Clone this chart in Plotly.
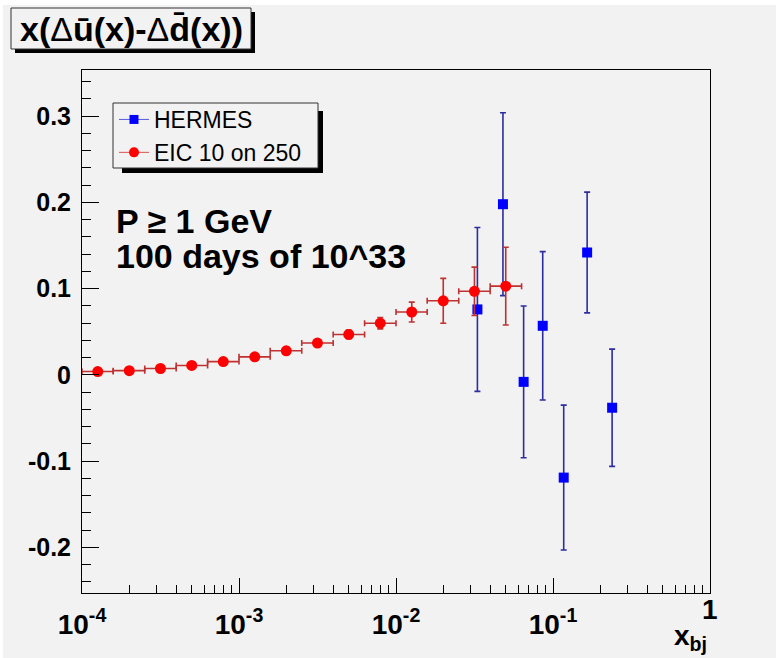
import numpy as np
import plotly.graph_objects as go

# ---------------- data ----------------
hermes_x = [0.033, 0.048, 0.065, 0.086, 0.117, 0.165, 0.238]
hermes_y = [0.076, 0.198, -0.008, 0.057, -0.119, 0.142, -0.038]
hermes_err = [0.095, 0.106, 0.088, 0.086, 0.084, 0.070, 0.068]

eic_x = [1.26e-4, 2.0e-4, 3.16e-4, 5.0e-4, 7.94e-4, 1.26e-3, 2.0e-3,
         3.16e-3, 5.0e-3, 7.94e-3, 1.26e-2, 2.0e-2, 3.16e-2, 5.0e-2]
eic_bin_edges = [1.0e-4, 1.58e-4, 2.51e-4, 3.98e-4, 6.31e-4, 1.0e-3, 1.58e-3,
                 2.51e-3, 3.98e-3, 6.31e-3, 1.0e-2, 1.58e-2, 2.51e-2, 3.98e-2, 6.31e-2]
eic_y = [0.004, 0.005, 0.0075, 0.011, 0.0155, 0.021, 0.028,
         0.037, 0.047, 0.060, 0.073, 0.086, 0.097, 0.103]
eic_err = [0.001, 0.001, 0.001, 0.0015, 0.002, 0.002, 0.003,
           0.004, 0.005, 0.0065, 0.0115, 0.026, 0.028, 0.045]

y_tickvals = [-0.2, -0.1, 0.0, 0.1, 0.2, 0.3]
y_ticktext = ["-0.2", "-0.1", "0", "0.1", "0.2", "0.3"]
x_tickvals = [1e-4, 1e-3, 1e-2, 1e-1, 1.0]
x_ticktext = ["10<sup>-4</sup>", "10<sup>-3</sup>", "10<sup>-2</sup>", "10<sup>-1</sup>", ""]
x_last_label = "1"

# ---------------- geometry helpers ----------------
W, H = 776, 658
L, R, T, B = 82, 710, 70, 593   # plot frame in pixels


def px(xp):
    return (xp - L) / (R - L)


def py(yp):
    return (B - yp) / (B - T)


FONT = "Liberation Sans, Arial, Helvetica, sans-serif"
BG = "#f2f2f2"

eic_xplus = [eic_bin_edges[i + 1] - eic_x[i] for i in range(len(eic_x))]
eic_xminus = [eic_x[i] - eic_bin_edges[i] for i in range(len(eic_x))]

fig = go.Figure()

fig.add_trace(go.Scatter(
    x=hermes_x, y=hermes_y, mode="markers", showlegend=False,
    marker=dict(symbol="square", size=10, color="#0000ff"),
    error_y=dict(type="data", array=hermes_err, color="rgb(45,45,160)",
                 thickness=1.6, width=3),
))
fig.add_trace(go.Scatter(
    x=eic_x, y=eic_y, mode="markers", showlegend=False,
    marker=dict(symbol="circle", size=11, color="#ff0000"),
    error_y=dict(type="data", array=eic_err, color="rgb(190,50,50)",
                 thickness=1.6, width=3),
    error_x=dict(type="data", array=eic_xplus, arrayminus=eic_xminus,
                 color="rgb(190,50,50)", thickness=1.6, width=3),
))

# legend-only entries (line + marker like the original)
fig.add_trace(go.Scatter(
    x=[None], y=[None], mode="lines+markers", name="HERMES", legendgroup="a",
    marker=dict(symbol="square", size=9, color="#0000ff"),
    line=dict(color="rgb(90,90,220)", width=1),
))
fig.add_trace(go.Scatter(
    x=[None], y=[None], mode="lines+markers", name="EIC 10 on 250", legendgroup="b",
    marker=dict(symbol="circle", size=10, color="#ff0000"),
    line=dict(color="rgb(220,80,80)", width=1),
))

minor_x = [m * 10.0 ** e for e in range(-4, 0) for m in range(2, 10)]
minor_y = [round(v, 2) for v in np.arange(-0.24, 0.35, 0.02)
           if abs(round(v * 10) - v * 10) > 1e-6]

fig.update_xaxes(
    type="log", range=[-4, 0],
    tickmode="array", tickvals=x_tickvals, ticktext=x_ticktext,
    ticks="inside", ticklen=15, tickwidth=1, tickcolor="black",
    minor=dict(tickmode="array", tickvals=minor_x, ticks="inside",
               ticklen=8, tickwidth=1, tickcolor="black", showgrid=False),
    showline=True, linecolor="black", linewidth=1, mirror=True,
    showgrid=False, zeroline=False,
    tickfont=dict(family=FONT, size=28, color="black", weight="bold"),
    ticklabelstandoff=6,
)
fig.update_yaxes(
    range=[-0.2528, 0.3536],
    tickmode="array", tickvals=y_tickvals, ticktext=y_ticktext,
    ticks="inside", ticklen=17, tickwidth=1, tickcolor="black",
    minor=dict(tickmode="array", tickvals=minor_y, ticks="inside",
               ticklen=9, tickwidth=1, tickcolor="black", showgrid=False),
    showline=True, linecolor="black", linewidth=1, mirror=True,
    showgrid=False, zeroline=False,
    tickfont=dict(family=FONT, size=25, color="black", weight="bold"),
    ticklabelstandoff=5,
)

shapes = [
    # thin white border of the original canvas
    dict(type="rect", xref="paper", yref="paper", x0=px(0), x1=px(W), y0=py(5), y1=py(0),
         fillcolor="white", line=dict(width=0), layer="below"),
    dict(type="rect", xref="paper", yref="paper", x0=px(0), x1=px(3), y0=py(H), y1=py(0),
         fillcolor="white", line=dict(width=0), layer="below"),
    # title box shadow and box
    dict(type="rect", xref="paper", yref="paper", x0=px(15), x1=px(255), y0=py(53), y1=py(12),
         fillcolor="black", line=dict(width=0)),
    dict(type="rect", xref="paper", yref="paper", x0=px(11), x1=px(251), y0=py(49), y1=py(8),
         fillcolor=BG, line=dict(color="#333333", width=1)),
    # legend shadow and box
    dict(type="rect", xref="paper", yref="paper", x0=px(122), x1=px(323), y0=py(173), y1=py(111),
         fillcolor="black", line=dict(width=0)),
    dict(type="rect", xref="paper", yref="paper", x0=px(113), x1=px(318), y0=py(168), y1=py(103),
         fillcolor=BG, line=dict(color="#333333", width=1)),
]

annotations = [
    dict(xref="paper", yref="paper", x=px(131), y=py(29), xanchor="center", yanchor="middle",
         text="<b>x(</b>Δ<b>ū(x)-</b>Δ<b>d\u0304(x))</b>", showarrow=False,
         font=dict(family=FONT, size=34, color="black")),
    dict(xref="paper", yref="paper", x=px(114), y=py(221), xanchor="left", yanchor="middle",
         text="<b>P ≥ 1 GeV</b>", showarrow=False,
         font=dict(family=FONT, size=34, color="black")),
    dict(xref="paper", yref="paper", x=px(114), y=py(256), xanchor="left", yanchor="middle",
         text="<b>100 days of 10^33</b>", showarrow=False,
         font=dict(family=FONT, size=34, color="black")),
    dict(xref="paper", yref="paper", x=1.0, y=py(609), xanchor="center", yanchor="middle",
         text="<b>" + x_last_label + "</b>", showarrow=False,
         font=dict(family=FONT, size=28, color="black")),
    dict(xref="paper", yref="paper", x=px(690), y=py(637), xanchor="center", yanchor="middle",
         text="<b>x<sub>bj</sub></b>", showarrow=False,
         font=dict(family=FONT, size=28, color="black")),
]

fig.update_layout(
    width=W, height=H,
    margin=dict(l=L, r=W - R, t=T, b=H - B, pad=0),
    paper_bgcolor=BG, plot_bgcolor=BG,
    shapes=shapes, annotations=annotations,
    legend=dict(x=px(114), y=py(98), xanchor="left", yanchor="top",
                bgcolor="rgba(0,0,0,0)", borderwidth=0,
                font=dict(family=FONT, size=23, color="black"),
                itemwidth=30, tracegroupgap=0, traceorder="grouped"),
    font=dict(family=FONT, color="black"),
)

fig.write_html("out.html")
